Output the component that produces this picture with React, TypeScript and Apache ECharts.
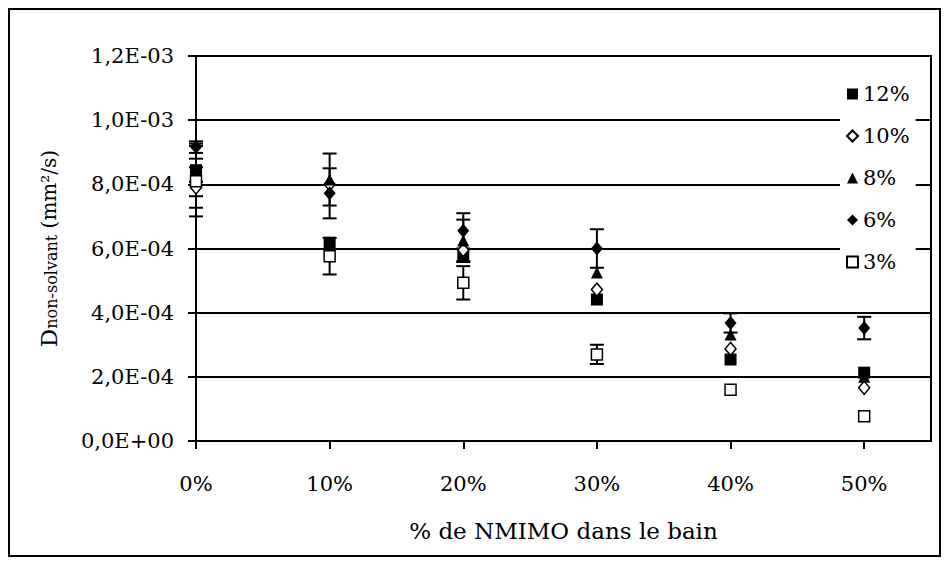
import React, { useEffect, useRef } from "react";
import * as echarts from "echarts";

const xValues = [0, 0.1, 0.2, 0.3, 0.4, 0.5];
const seriesNames = ["12%", "10%", "8%", "6%", "3%"];

const d12 = [8.44e-4, 6.18e-4, 5.78e-4, 4.41e-4, 2.54e-4, 2.13e-4];
const e12 = [0.36e-4, 0, 0.2e-4, 0, 0, 0];
const d10 = [7.9e-4, 8.0e-4, 5.95e-4, 4.72e-4, 2.87e-4, 1.66e-4];
const e10 = [0.63e-4, 0, 0, 0, 0, 0];
const d8 = [8.45e-4, 8.15e-4, 6.25e-4, 5.25e-4, 3.32e-4, 2.0e-4];
const e8 = [0.82e-4, 0.81e-4, 0.65e-4, 0, 0, 0];
const d6 = [9.16e-4, 7.72e-4, 6.55e-4, 6.0e-4, 3.68e-4, 3.52e-4];
const e6 = [0.18e-4, 0.78e-4, 0.55e-4, 0.6e-4, 0.3e-4, 0.35e-4];
const d3 = [8.1e-4, 5.76e-4, 4.93e-4, 2.7e-4, 1.6e-4, 0.77e-4];
const e3 = [1.1e-4, 0.57e-4, 0.52e-4, 0.3e-4, 0, 0];

const FONT = "DejaVu Serif";

function fmtSci(v: number): string {
  if (Math.abs(v) < 1e-12) return "0,0E+00";
  const e = Math.floor(Math.log10(v) + 1e-9);
  const m = v / Math.pow(10, e);
  return (
    m.toFixed(1).replace(".", ",") +
    "E" +
    (e < 0 ? "-" : "+") +
    String(Math.abs(e)).padStart(2, "0")
  );
}

export default function App() {
  const ref = useRef<HTMLDivElement>(null);
  useEffect(() => {
    if (!ref.current) return;
    const chart = echarts.init(ref.current, null, { renderer: "svg" });

    const groups = [
      { name: "12%", data: d12, err: e12, symbol: "rect", size: 12, fill: "#000" },
      { name: "10%", data: d10, err: e10, symbol: "diamond", size: [11, 13], fill: "#fff" },
      { name: "8%", data: d8, err: e8, symbol: "triangle", size: [12, 12], fill: "#000" },
      { name: "6%", data: d6, err: e6, symbol: "diamond", size: [12, 14], fill: "#000" },
      { name: "3%", data: d3, err: e3, symbol: "rect", size: 11, fill: "#fff" },
    ];

    const errSeries = groups.map((g) => ({
      type: "custom",
      name: "err" + g.name,
      z: 2,
      silent: true,
      data: xValues.map((x, i) => [x, g.data[i], g.err[i]]),
      renderItem: (params: any, api: any) => {
        const x = api.value(0);
        const v = api.value(1);
        const e = api.value(2);
        if (!e) return { type: "group", children: [] };
        const top = api.coord([x, v + e]);
        const bot = api.coord([x, v - e]);
        const st = { stroke: "#000", lineWidth: 2 };
        const hw = 7;
        return {
          type: "group",
          children: [
            { type: "line", shape: { x1: top[0], y1: top[1], x2: bot[0], y2: bot[1] }, style: st },
            { type: "line", shape: { x1: top[0] - hw, y1: top[1], x2: top[0] + hw, y2: top[1] }, style: st },
            { type: "line", shape: { x1: bot[0] - hw, y1: bot[1], x2: bot[0] + hw, y2: bot[1] }, style: st },
          ],
        };
      },
    }));

    const markSeries = groups.map((g) => ({
      type: "scatter",
      name: g.name,
      z: 3,
      symbol: g.symbol,
      symbolSize: g.size,
      itemStyle: {
        color: g.fill,
        borderColor: "#000",
        borderWidth: g.fill === "#fff" ? 1.5 : 0,
        opacity: 1,
      },
      emphasis: { disabled: true },
      data: xValues.map((x, i) => [x, g.data[i]]),
    }));

    chart.setOption({
      animation: false,
      backgroundColor: "#fff",
      textStyle: { fontFamily: FONT, color: "#000" },
      grid: {
        left: 196,
        top: 56,
        right: 18,
        bottom: 124,
        show: true,
        borderColor: "#000",
        borderWidth: 2,
        backgroundColor: "transparent",
      },
      legend: {
        data: seriesNames,
        orient: "vertical",
        left: 840,
        top: 78,
        padding: [4, 6, 4, 6],
        backgroundColor: "#fff",
        itemWidth: 11,
        itemHeight: 11,
        itemGap: 18,
        selectedMode: false,
        textStyle: { fontFamily: FONT, fontSize: 21, color: "#000", lineHeight: 24 },
      },
      xAxis: {
        type: "value",
        min: 0,
        max: 0.55,
        interval: 0.1,
        name: "% de NMIMO dans le bain",
        nameLocation: "middle",
        nameGap: 78,
        nameTextStyle: { fontFamily: FONT, fontSize: 23, color: "#000" },
        axisLine: { show: true, lineStyle: { color: "#000", width: 2 } },
        axisTick: {
          show: true,
          inside: false,
          length: 8,
          lineStyle: { color: "#000", width: 2 },
          customValues: xValues,
        },
        axisLabel: {
          fontFamily: FONT,
          fontSize: 21,
          color: "#000",
          margin: 32,
          customValues: xValues,
          formatter: (v: number) => Math.round(v * 100) + "%",
        },
        splitLine: { show: false },
      },
      yAxis: {
        type: "value",
        min: 0,
        max: 0.0012,
        interval: 0.0002,
        name: "{D|D}{s|non-solvant} (mm²/s)",
        nameLocation: "middle",
        nameRotate: 90,
        nameGap: 136,
        nameTextStyle: {
          fontFamily: FONT,
          fontSize: 20,
          color: "#000",
          rich: {
            D: { fontFamily: FONT, fontSize: 23, color: "#000" },
            s: { fontFamily: FONT, fontSize: 16, color: "#000", padding: [6, 0, 0, 0] },
          },
        },
        axisLine: { show: true, lineStyle: { color: "#000", width: 2 } },
        axisTick: { show: true, inside: false, length: 8, lineStyle: { color: "#000", width: 2 } },
        axisLabel: {
          fontFamily: FONT,
          fontSize: 21,
          color: "#000",
          margin: 22,
          formatter: (v: number) => fmtSci(v),
        },
        splitLine: { show: true, lineStyle: { color: "#000", width: 2 } },
      },
      graphic: [
        {
          type: "rect",
          shape: { x: 9, y: 9, width: 931, height: 547 },
          style: { fill: "none", stroke: "#000", lineWidth: 2 },
          silent: true,
          z: 100,
        },
      ],
      series: [...errSeries, ...markSeries],
    });
    return () => chart.dispose();
  }, []);

  return (
    <div
      ref={ref}
      style={{ position: "absolute", left: 0, top: 0, width: 949, height: 565 }}
    />
  );
}
